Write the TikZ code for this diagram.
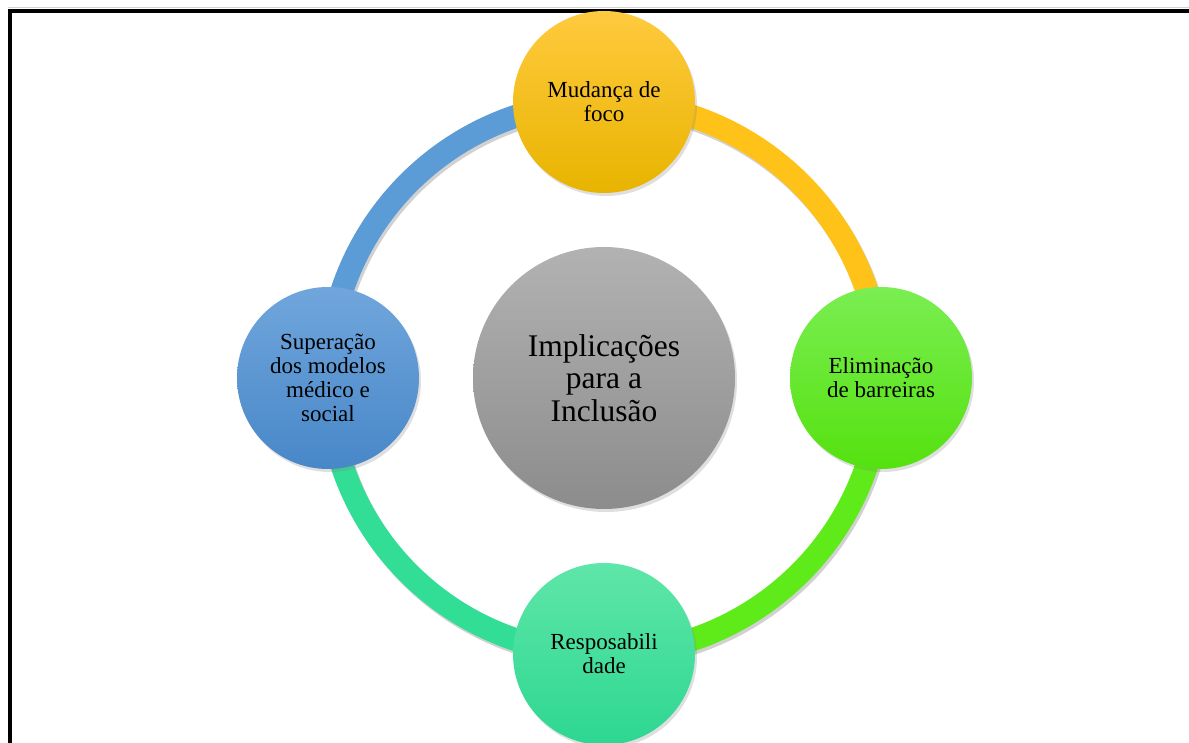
\documentclass[tikz,border=0pt]{standalone}
\usepackage{fontspec}
\setmainfont{Liberation Serif}
\usetikzlibrary{shadows}
\pgfdeclarelayer{background}
\pgfsetlayers{background,main}
\definecolor{ylwTop}{RGB}{255,202,62}
\definecolor{ylwBot}{RGB}{232,180,0}
\definecolor{bluTop}{RGB}{112,166,220}
\definecolor{bluBot}{RGB}{72,135,200}
\definecolor{grnTop}{RGB}{122,238,82}
\definecolor{grnBot}{RGB}{85,225,15}
\definecolor{tealTop}{RGB}{95,230,168}
\definecolor{tealBot}{RGB}{45,215,145}
\definecolor{gryTop}{RGB}{178,178,178}
\definecolor{gryBot}{RGB}{140,140,140}
\definecolor{ringBlue}{RGB}{92,156,214}
\definecolor{ringYellow}{RGB}{255,194,24}
\definecolor{ringGreen}{RGB}{95,235,25}
\definecolor{ringTeal}{RGB}{50,222,150}
\begin{document}
\begin{tikzpicture}[x=1pt,y=1pt,
  bubble/.style={circle, minimum size=182pt, inner sep=0pt, align=center,
    text=black, font=\fontsize{23}{24}\selectfont,
    drop shadow={shadow xshift=2pt, shadow yshift=-3pt, opacity=0.25}},
  hub/.style={circle, minimum size=262pt, inner sep=0pt, align=center,
    text=black, font=\fontsize{31.5}{32.5}\selectfont,
    top color=gryTop, bottom color=gryBot,
    drop shadow={shadow xshift=2pt, shadow yshift=-3pt, opacity=0.25}},
  ringarc/.style={line width=23pt},
  ringshade/.style={line width=23pt, black, opacity=0.18,
    transform canvas={shift={(2pt,-3pt)}}}]
\useasboundingbox (0,0) rectangle (1189,742);
\clip (0,0) rectangle (1189,742);
% frame
\draw[gray!35, line width=0.8pt] (8,735) -- (1200,735);
\draw[line width=3.6pt] (10,-20) -- (10,731) -- (1210,731);
% nodes
\node[hub] (C) at (604,364) {Implicações\\para a\\Inclusão};
\node[bubble, top color=ylwTop, bottom color=ylwBot] (T) at (604,640) {Mudança de\\foco};
\node[bubble, top color=grnTop, bottom color=grnBot] (R) at (881,364) {Eliminação\\de barreiras};
\node[bubble, top color=tealTop, bottom color=tealBot] (B) at (604,88) {Resposabili\\dade};
\node[bubble, top color=bluTop, bottom color=bluBot] (L) at (328,364) {Superação\\dos modelos\\médico e\\social};
% ring
\begin{pgfonlayer}{background}
\draw[ringshade] (L.center) to[out=90, in=180] (T.center);
\draw[ringshade] (T.center) to[out=0, in=90] (R.center);
\draw[ringshade] (R.center) to[out=-90, in=0] (B.center);
\draw[ringshade] (B.center) to[out=180, in=-90] (L.center);
\draw[ringarc, ringBlue] (L.center) to[out=90, in=180] (T.center);
\draw[ringarc, ringYellow] (T.center) to[out=0, in=90] (R.center);
\draw[ringarc, ringGreen] (R.center) to[out=-90, in=0] (B.center);
\draw[ringarc, ringTeal] (B.center) to[out=180, in=-90] (L.center);
\end{pgfonlayer}
\end{tikzpicture}
\end{document}
